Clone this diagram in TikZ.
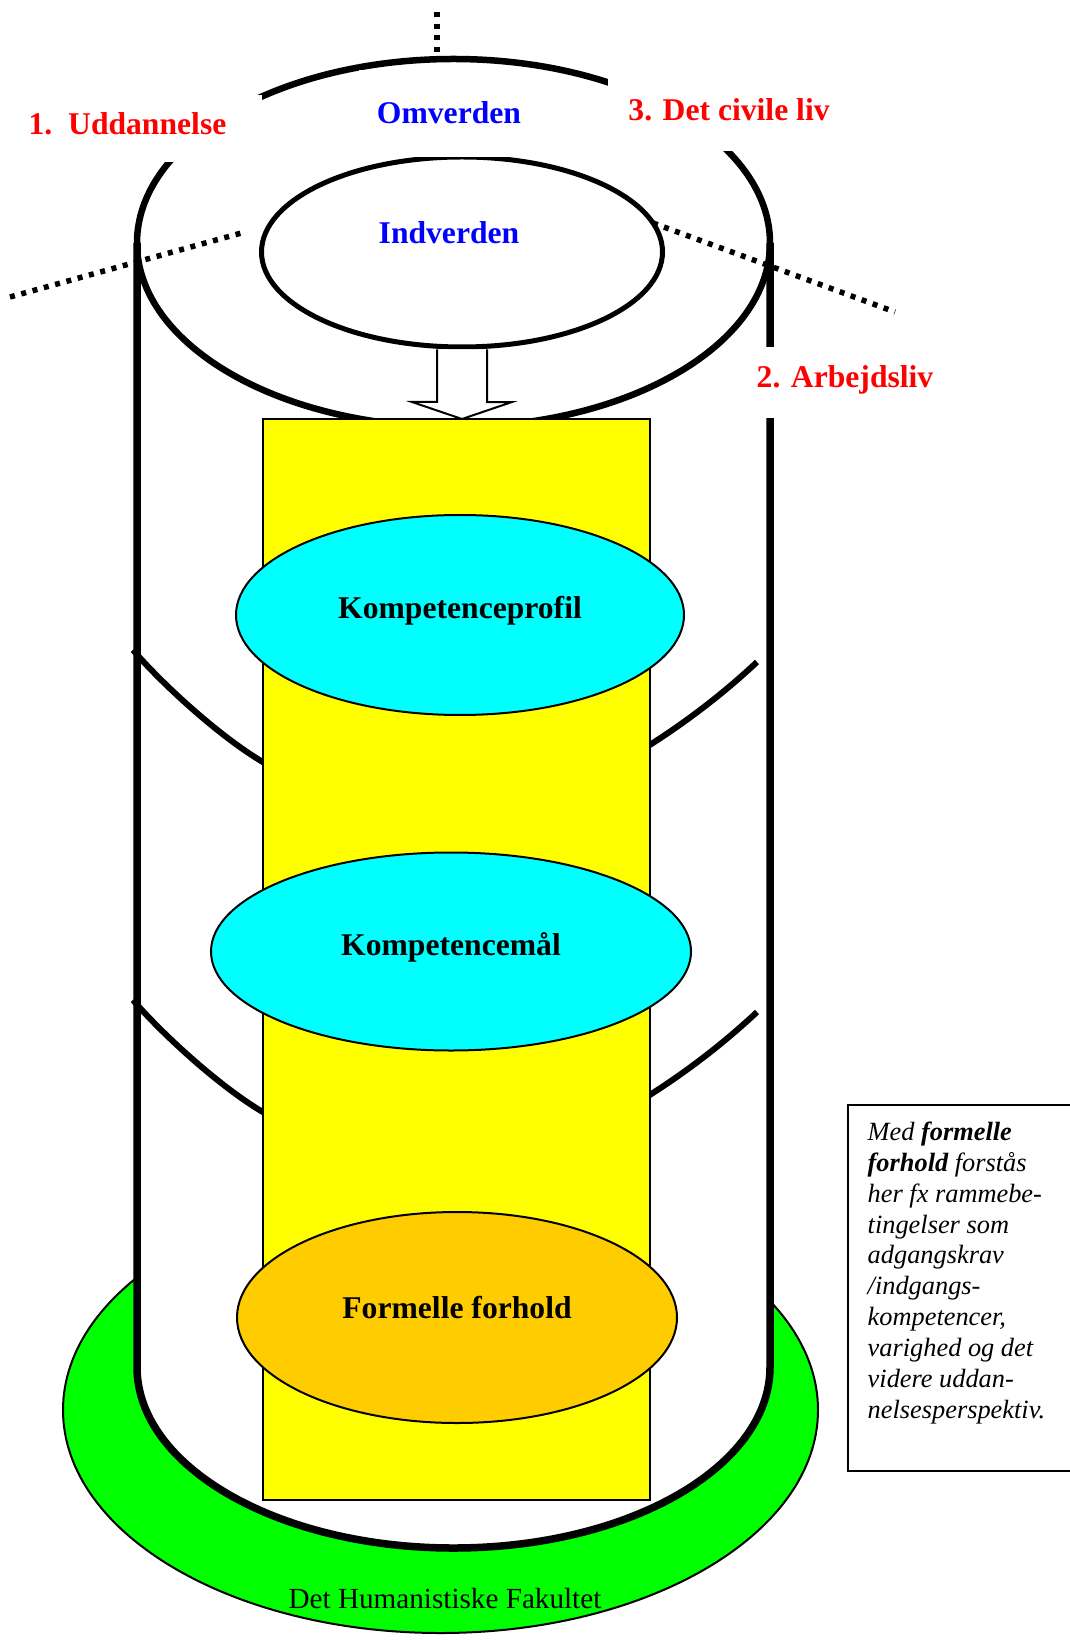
\documentclass[tikz,border=0pt]{standalone}
\usepackage{fontspec}
\setmainfont{Liberation Serif}
\usetikzlibrary{calc}
\usetikzlibrary{positioning}
\usetikzlibrary{shapes.geometric}

\definecolor{cyanfelt}{HTML}{00FFFF}
\definecolor{gulfelt}{HTML}{FFFF00}
\definecolor{groenfelt}{HTML}{00FF00}
\definecolor{orangefelt}{HTML}{FFCC00}

\begin{document}
\begin{tikzpicture}[x=0.1mm, y=-0.1mm,
    tynd/.style={line width=0.2mm},
    vaeg/.style={line width=0.75mm},
    ring/.style={line width=0.6mm},
    prikket/.style={line width=0.55mm, dash pattern=on 0.5mm off 0.67mm},
    felt/.style={ellipse, draw, tynd, outer sep=0pt, inner sep=0pt,
      font=\fontsize{9}{10.8}\selectfont\bfseries, text height=2.2mm, text depth=1.4mm},
    etiket/.style={fill=white, inner sep=0pt, anchor=base,
      font=\fontsize{9}{10.8}\selectfont\bfseries},
    pil/.style={tynd, fill=white, line join=miter}]
  \fill[white] (0,0) rectangle (1069,1642);
  \useasboundingbox (0,0) rectangle (1069,1642);

  \node[ellipse, draw, tynd, fill=groenfelt, minimum width=75.5mm, minimum height=44.6mm] (fak) at (440.5,1410) {};
  \node[anchor=base, font=\fontsize{8.3}{10}\selectfont] (faktekst) at (445,1608) {Det Humanistiske Fakultet};

  \fill[white] (137,243) -- (137,1367) arc[start angle=180, end angle=0, x radius=316.5, y radius=181] -- (770,243) -- cycle;
  \node[ellipse, draw, line width=0.65mm, outer sep=0pt, minimum width=63.3mm, minimum height=36.8mm] (ydre) at (453.5,243) {};
  \draw[vaeg] (ydre.west) -- (137,1367) arc[start angle=180, end angle=0, x radius=316.5, y radius=181] -- (ydre.east);

  \foreach \dy in {0,350} {
    \draw[ring] (133,650+\dy) .. controls (162,684+\dy) and (223,740+\dy) .. (268,765+\dy);
    \draw[ring] (645,748+\dy) .. controls (688,721+\dy) and (725,692+\dy) .. (757,662+\dy);
  }

  \node[draw, tynd, fill=gulfelt, inner sep=0pt, outer sep=0pt, minimum width=38.7mm, minimum height=108.1mm] (gul) at (456.5,959.5) {};

  \node[ellipse, draw, line width=0.5mm, minimum width=40.1mm, minimum height=19mm] (indre) at (462,252) {};
  \coordinate (spids) at (indre.south |- gul.north);
  \draw[pil] ($(indre.south)+(-25,0)$) -- ++(0,52.5) -- ++(-25,0) -- (spids) -- ++(50,-17) -- ++(-25,0) -- ++(0,-52.5);

  \node[felt, fill=cyanfelt, minimum width=44.8mm, minimum height=20mm] (profil) at (460,615) {Kompetenceprofil};
  \node[felt, fill=cyanfelt, minimum width=48mm, minimum height=19.8mm] (maal) at (451,951.5) {Kompetencemål};
  \node[felt, fill=orangefelt, minimum width=44mm, minimum height=21.1mm, text depth=2.1mm] (formel) at (457,1317.5) {Formelle forhold};

  \draw[prikket] (10,297) -- (245,232);
  \draw[prikket] (653,223) -- (895,312);
  \draw[prikket] (437,12) -- (437,53);

  \node[etiket, text=red, minimum width=26.9mm, text height=4mm, text depth=2.7mm] (udd) at (127.5,135) {1.\ \ Uddannelse};
  \node[etiket, text=red, minimum width=24.2mm, text height=5.1mm, text depth=3mm] (civil) at (729,121) {3. Det civile liv};
  \node[etiket, text=red, minimum width=20mm, text height=4.1mm, text depth=3mm] (arbejde) at (845,388) {2. Arbejdsliv};
  \node[etiket, text=blue, minimum width=18mm, text height=5.4mm, text depth=3.3mm] (omverden) at (449,124) {Omverden};
  \node[etiket, text=blue, fill=none] (indverden) at (449,244) {Indverden};

  \node[draw, tynd, anchor=north west, inner sep=0pt, minimum width=23mm, minimum height=36.6mm] (boks) at (847,1104) {};
  \node[anchor=north west, inner sep=0pt, align=left, font=\fontsize{7.5}{8.8}\selectfont\itshape] (forklaring) at ([shift={(20,17)}]boks.north west)
    {Med \textbf{formelle}\\ \textbf{forhold} forstås\\ her fx rammebe-\\ tingelser som\\ adgangskrav\\ /indgangs-\\ kompetencer,\\ varighed og det\\ videre uddan-\\ nelsesperspektiv.};
\end{tikzpicture}
\end{document}
